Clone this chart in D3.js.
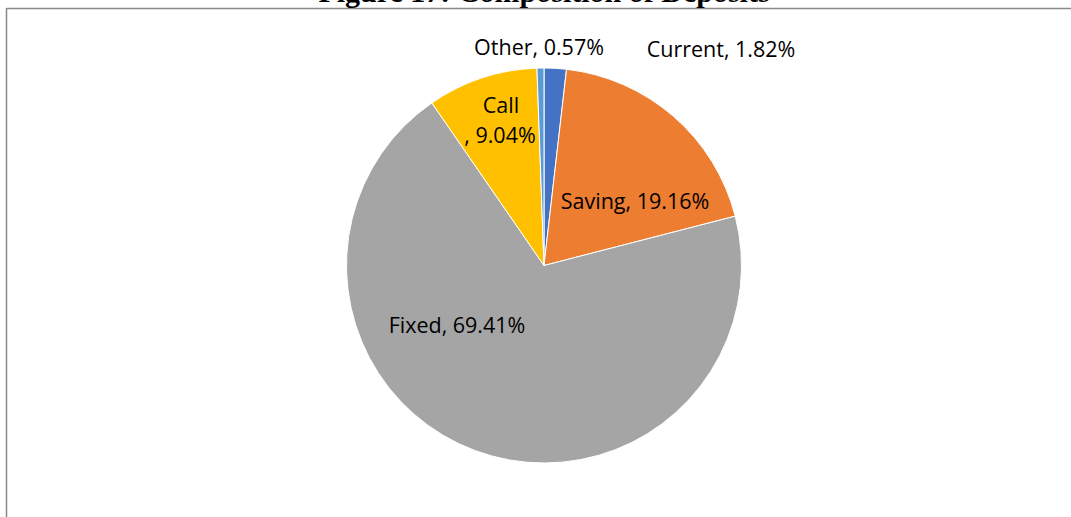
<!DOCTYPE html>
<html><head><meta charset="utf-8">
<script src="https://cdn.jsdelivr.net/npm/d3@7"></script>
<style>body{margin:0;background:#fff;}svg{display:block;}</style>
</head><body>
<svg id="c" width="1071" height="517"></svg>
<script>
const categories = ["Current", "Saving", "Fixed", "Call", "Other"];
const values = [1.82, 19.16, 69.41, 9.04, 0.57];
const colors = ["#4472C4", "#ED7D31", "#A5A5A5", "#FFC000", "#5B9BD5"];
const title = "Figure 17: Composition of Deposits";

const svg = d3.select("#c");
// frame
svg.append("line").attr("x1",6.5).attr("x2",1071).attr("y1",8.5).attr("y2",8.5).attr("stroke","#898989").attr("stroke-width",1.5);
svg.append("line").attr("x1",6.5).attr("x2",6.5).attr("y1",8).attr("y2",517).attr("stroke","#898989").attr("stroke-width",1.5);
// title (cut off at top, as in the reference)
svg.append("text").attr("x",544).attr("y",2).attr("text-anchor","middle")
  .attr("font-family","Liberation Serif").attr("font-weight","bold").attr("font-size",30).text(title);

const cx = 544, cy = 265.5, r = 197.5;
const data = categories.map((c,i)=>({name:c, value:values[i], color:colors[i]}));
const pie = d3.pie().value(d=>d.value).sort(null);
const arcs = pie(data);
const arc = d3.arc().innerRadius(0).outerRadius(r);
const g = svg.append("g").attr("transform",`translate(${cx},${cy})`);
g.selectAll("path").data(arcs).join("path").attr("d",arc).attr("fill",d=>d.data.color)
  .attr("stroke","#fff").attr("stroke-width",1);

// label positions (relative to center)
const labelPos = {
  Current: [[721-cx, 57-cy]],
  Saving: [[635-cx, 209-cy]],
  Fixed: [[457-cx, 333-cy]],
  Call: [[501-cx, 113-cy],[500-cx, 143-cy]],
  Other: [[539-cx, 55-cy]]
};
const fmt = v => v.toFixed(2) + "%";
arcs.forEach(a=>{
  const name = a.data.name;
  const pos = labelPos[name];
  const lines = name === "Call" ? [name, ", " + fmt(a.data.value)] : [name + ", " + fmt(a.data.value)];
  lines.forEach((t,i)=>{
    g.append("text").attr("x",pos[i][0]).attr("y",pos[i][1]).attr("text-anchor","middle")
      .attr("font-family","Open Sans, sans-serif").attr("font-size",21.5).attr("fill","#000").text(t);
  });
});
</script>
</body></html>
